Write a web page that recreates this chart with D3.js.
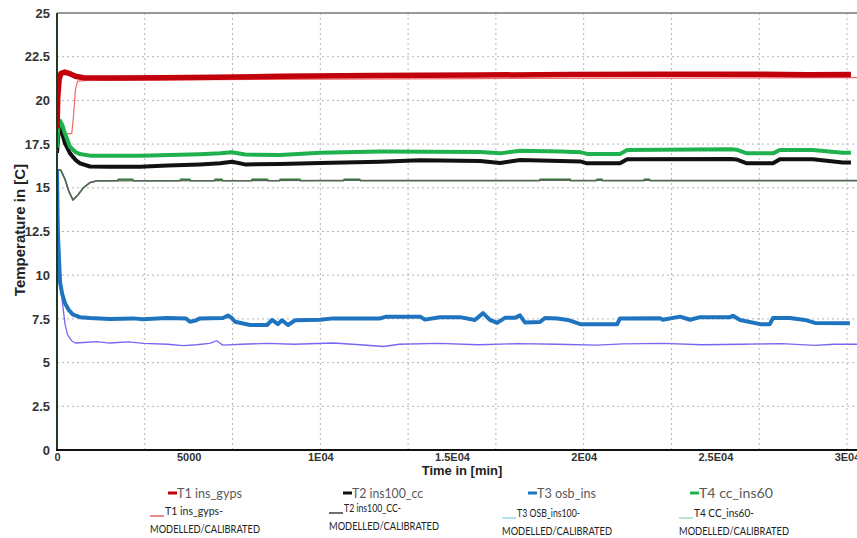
<!DOCTYPE html>
<html>
<head>
<meta charset="utf-8">
<script src="https://cdn.jsdelivr.net/npm/d3@7"></script>
<style>
  body { margin: 0; background: #fff; }
  svg { display: block; }
</style>
</head>
<body>
<svg id="chart"></svg>
<script>
// measured and modelled temperatures, [time in min, temperature in C]
const t1Measured = [[0,18.4],[30,20.2],[80,21.2],[150,21.55],[300,21.62],[450,21.55],[700,21.38],[1000,21.3],[2000,21.28],[4000,21.3],[6000,21.32],[8500,21.38],[12000,21.42],[16000,21.45],[19500,21.48],[23000,21.5],[26000,21.5],[28500,21.47],[30150,21.48]];
const t1Model = [[0,17.9],[40,18.1],[560,18.1],[620,19.0],[700,20.6],[780,21.1],[1200,21.15],[8000,21.2],[16000,21.25],[24000,21.28],[30800,21.3]];
const t2Measured = [[0,17.0],[50,18.0],[114,18.44],[200,18.1],[304,17.54],[494,16.97],[700,16.6],[874,16.4],[1253,16.22],[2000,16.2],[3152,16.2],[4200,16.28],[5430,16.34],[6200,16.4],[6645,16.49],[7139,16.34],[8470,16.36],[9990,16.42],[12270,16.49],[13790,16.57],[16070,16.53],[16830,16.42],[17590,16.59],[19110,16.53],[19900,16.5],[20130,16.4],[21380,16.4],[21650,16.63],[25600,16.65],[25800,16.62],[26200,16.4],[27190,16.4],[27450,16.63],[28700,16.63],[29840,16.45],[30150,16.45]];
const t2Model = [[0,16.05],[150,16.0],[300,15.5],[450,14.8],[608,14.3],[800,14.6],[1000,15.0],[1253,15.3],[1520,15.4],[10000,15.42],[20000,15.42],[30800,15.42]];
const t3Measured = [[0,16.0],[30,12.5],[114,9.6],[200,8.9],[304,8.4],[450,8.0],[608,7.75],[874,7.6],[1253,7.55],[2000,7.5],[2888,7.53],[3266,7.48],[4177,7.55],[4900,7.52],[5050,7.34],[5250,7.4],[5430,7.53],[6300,7.55],[6494,7.69],[6600,7.6],[6760,7.34],[7330,7.15],[7975,7.15],[8165,7.44],[8390,7.2],[8545,7.42],[8770,7.15],[9040,7.42],[9990,7.45],[10500,7.53],[12270,7.53],[12500,7.63],[13790,7.63],[13970,7.46],[14540,7.6],[15300,7.6],[15870,7.44],[16180,7.83],[16440,7.44],[16710,7.27],[17010,7.56],[17390,7.56],[17580,7.7],[17770,7.3],[18340,7.32],[18530,7.55],[19000,7.52],[19400,7.44],[19870,7.2],[21270,7.19],[21380,7.53],[22900,7.54],[23010,7.45],[23660,7.63],[24040,7.45],[24420,7.6],[25560,7.6],[25670,7.68],[25940,7.44],[26700,7.2],[27070,7.2],[27190,7.55],[27830,7.55],[28400,7.44],[28780,7.27],[30110,7.25]];
const t3Model = [[0,16.0],[60,13.0],[114,10.5],[200,8.5],[304,7.2],[400,6.6],[550,6.25],[700,6.12],[1000,6.15],[1500,6.2],[2000,6.12],[2700,6.18],[3300,6.1],[4200,6.05],[4800,5.97],[5300,6.02],[5800,6.1],[6060,6.25],[6300,6.0],[7000,6.05],[8000,6.1],[9000,6.05],[10500,6.12],[11500,6.02],[12400,5.92],[13000,6.05],[14500,6.1],[16000,6.02],[17500,6.08],[19000,6.05],[20500,6.0],[21500,6.07],[23000,6.1],[24500,6.02],[26000,6.05],[27500,6.08],[28800,5.98],[29500,6.05],[30800,6.05]];
const t4Measured = [[0,17.3],[50,18.4],[114,18.84],[200,18.6],[304,18.1],[494,17.35],[700,17.05],[874,16.93],[1253,16.84],[3152,16.84],[5430,16.92],[6200,16.97],[6645,17.03],[7139,16.9],[8470,16.88],[9990,17.01],[12270,17.07],[16070,17.05],[16830,16.97],[17590,17.12],[19110,17.07],[19900,17.03],[20130,16.94],[21380,16.94],[21650,17.16],[25600,17.2],[25800,17.18],[26200,16.97],[27190,16.97],[27450,17.16],[28700,17.16],[29840,17.01],[30150,17.01]];
const t4Model = [[0,16.05],[150,16.0],[300,15.5],[450,14.8],[608,14.3],[800,14.6],[1000,15.0],[1253,15.3],[1520,15.4],[2300,15.4],[2320,15.48],[2880,15.48],[2900,15.4],[4670,15.4],[4690,15.48],[5050,15.48],[5070,15.4],[5980,15.4],[6000,15.48],[6270,15.48],[6290,15.4],[7380,15.4],[7400,15.48],[8000,15.48],[8020,15.4],[8450,15.4],[8470,15.48],[9230,15.48],[9250,15.4],[10880,15.4],[10900,15.48],[11500,15.48],[11520,15.4],[18320,15.4],[18340,15.48],[19490,15.48],[19510,15.4],[20480,15.4],[20500,15.48],[20700,15.48],[20720,15.4],[22280,15.4],[22300,15.48],[22500,15.48],[22520,15.4],[30800,15.4]];

const xTicks = [0, 5000, 10000, 15000, 20000, 25000, 30000];
const xTickLabels = ["0", "5000", "1E04", "1.5E04", "2E04", "2.5E04", "3E04"];
const yTicks = [0, 2.5, 5, 7.5, 10, 12.5, 15, 17.5, 20, 22.5, 25];

const seriesNames = ["T1 ins_gyps", "T2 ins100_cc", "T3 osb_ins", "T4 cc_ins60"];
const modelNames = ["T1 ins_gyps-", "T2 ins100_CC-", "T3 OSB_ins100-", "T4 CC_ins60-"];

const width = 857, height = 538;
const plot = { left: 57, right: 857, top: 13, bottom: 450 };

const svg = d3.select("#chart").attr("width", width).attr("height", height);

const x = d3.scaleLinear().domain([0, 30000]).range([plot.left, 847]);
const y = d3.scaleLinear().domain([0, 25]).range([plot.bottom, plot.top]);

svg.append("defs").append("clipPath").attr("id", "plotClip")
  .append("rect")
  .attr("x", plot.left).attr("y", plot.top)
  .attr("width", plot.right - plot.left).attr("height", plot.bottom - plot.top);

// grid
const grid = svg.append("g");
grid.selectAll(".hgrid")
  .data(yTicks.filter(d => d > 0 && d < 25))
  .join("line")
  .attr("x1", plot.left).attr("x2", plot.right)
  .attr("y1", d => y(d)).attr("y2", d => y(d))
  .attr("stroke", "#b5b5b5").attr("stroke-width", 1)
  .attr("stroke-dasharray", "2,3");
grid.selectAll(".vgrid")
  .data(d3.range(1, 10).map(i => i * 10000 / 3))
  .join("line")
  .attr("x1", d => x(d)).attr("x2", d => x(d))
  .attr("y1", plot.top).attr("y2", plot.bottom)
  .attr("stroke", "#b5b5b5").attr("stroke-width", 1)
  .attr("stroke-dasharray", "2,3");

// top border
svg.append("line")
  .attr("x1", plot.left).attr("x2", plot.right)
  .attr("y1", y(25)).attr("y2", y(25))
  .attr("stroke", "#777").attr("stroke-width", 1.5);

const line = d3.line().x(d => x(d[0])).y(d => y(d[1]));
const lines = svg.append("g").attr("clip-path", "url(#plotClip)");

function drawLine(data, color, w) {
  lines.append("path")
    .datum(data)
    .attr("fill", "none")
    .attr("stroke", color)
    .attr("stroke-width", w)
    .attr("stroke-linejoin", "round")
    .attr("d", line);
}

drawLine(t1Model, "#f26b6b", 1.2);
drawLine(t4Model, "#2e7d32", 1.6);
drawLine(t2Model, "#5f5f5f", 1.3);
drawLine(t3Model, "#7468f0", 1.3);
drawLine(t3Measured, "#1f74c0", 4);
drawLine(t2Measured, "#111111", 4);
drawLine(t4Measured, "#1fb14d", 4);
drawLine(t1Measured, "#c1000b", 5.5);

// axes
svg.append("line")
  .attr("x1", plot.left).attr("x2", plot.left)
  .attr("y1", plot.top).attr("y2", plot.bottom)
  .attr("stroke", "#1f3a26").attr("stroke-width", 2);
svg.append("line")
  .attr("x1", plot.left - 1).attr("x2", plot.right)
  .attr("y1", plot.bottom).attr("y2", plot.bottom)
  .attr("stroke", "#111").attr("stroke-width", 2);

const yAxis = svg.append("g")
  .attr("transform", `translate(${plot.left},0)`)
  .call(d3.axisLeft(y).tickValues(yTicks).tickSize(0).tickPadding(7).tickFormat(d3.format("")));
yAxis.select(".domain").remove();
yAxis.selectAll("text")
  .style("font-family", "Liberation Sans, Arial, sans-serif")
  .style("font-weight", "bold")
  .style("font-size", "13px")
  .attr("fill", "#333");

const xAxis = svg.append("g")
  .attr("transform", `translate(0,${plot.bottom})`)
  .call(d3.axisBottom(x).tickValues(xTicks).tickSize(0).tickPadding(3)
    .tickFormat((d, i) => xTickLabels[i]));
xAxis.select(".domain").remove();
xAxis.selectAll("text")
  .style("font-family", "Liberation Sans, Arial, sans-serif")
  .style("font-weight", "bold")
  .style("font-size", "11px")
  .attr("fill", "#333");

// axis titles
svg.append("text")
  .attr("x", 462).attr("y", 475)
  .attr("text-anchor", "middle")
  .style("font-family", "Liberation Sans, Arial, sans-serif")
  .style("font-weight", "bold")
  .style("font-size", "13px")
  .attr("fill", "#222")
  .text("Time in [min]");

svg.append("text")
  .attr("transform", "translate(25,230) rotate(-90)")
  .attr("text-anchor", "middle")
  .style("font-family", "Liberation Sans, Arial, sans-serif")
  .style("font-weight", "bold")
  .style("font-size", "15px")
  .attr("fill", "#222")
  .text("Temperature in [C]");

// legend, first row: measured
const legendX = [168, 343, 528, 690];
const legendColors = ["#c1000b", "#111111", "#1f74c0", "#1fb14d"];
const legendWidths = [65, 71, 59, 74];
const leg1 = svg.append("g");
seriesNames.forEach((name, i) => {
  leg1.append("line")
    .attr("x1", legendX[i]).attr("x2", legendX[i] + 9)
    .attr("y1", 493).attr("y2", 493)
    .attr("stroke", legendColors[i]).attr("stroke-width", 3);
  leg1.append("text")
    .attr("x", legendX[i] + 9).attr("y", 498)
    .attr("textLength", legendWidths[i]).attr("lengthAdjust", "spacingAndGlyphs")
    .style("font-family", "Lato, sans-serif")
    .style("font-size", "14px")
    .attr("fill", "#5a5a5a")
    .text(name);
});

// legend, second row: modelled
const modelX = [150, 329, 502, 679];
const modelY = [515, 512, 517, 517];
const modelColors = ["#e03a3a", "#111111", "#84d0e2", "#84d8a6"];
const modelWidths = [58, 57, 63, 60];
const leg2 = svg.append("g");
modelNames.forEach((name, i) => {
  leg2.append("line")
    .attr("x1", modelX[i]).attr("x2", modelX[i] + 14)
    .attr("y1", modelY[i] + 1).attr("y2", modelY[i] + 1)
    .attr("stroke", modelColors[i]).attr("stroke-width", 1.2);
  leg2.append("text")
    .attr("x", modelX[i] + 15).attr("y", modelY[i])
    .attr("textLength", modelWidths[i]).attr("lengthAdjust", "spacingAndGlyphs")
    .style("font-family", "Lato, sans-serif")
    .style("font-size", "12px")
    .attr("fill", "#222")
    .text(name);
  leg2.append("text")
    .attr("x", modelX[i]).attr("y", modelY[i] + 18)
    .attr("textLength", 110).attr("lengthAdjust", "spacingAndGlyphs")
    .style("font-family", "Lato, sans-serif")
    .style("font-size", "12px")
    .attr("fill", "#222")
    .text("MODELLED/CALIBRATED");
});
</script>
</body>
</html>
